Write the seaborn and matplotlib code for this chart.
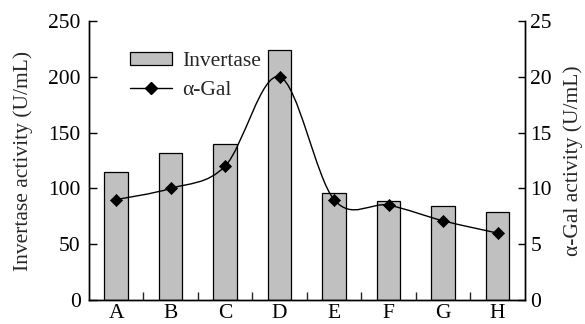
import numpy as np
import pandas as pd
import matplotlib
matplotlib.use("Agg")
import matplotlib.pyplot as plt
from matplotlib.path import Path
from matplotlib.patches import PathPatch
from matplotlib.lines import Line2D
from matplotlib.patches import Patch
import seaborn as sns

muestras = ['A', 'B', 'C', 'D', 'E', 'F', 'G', 'H']
invertasa = [115, 132, 140, 224, 96, 89, 84, 79]
alfa_gal = [9, 10, 12, 20, 9, 8.5, 7.1, 6]

sns.set_theme(style="white")
plt.rcParams['font.family'] = ['Liberation Serif', 'DejaVu Serif']

df = pd.DataFrame({'muestra': muestras, 'inv': invertasa, 'gal': alfa_gal})
FS = 15.5

fig = plt.figure(figsize=(5.85, 3.24), dpi=100)
ax = fig.add_axes([0.152, 0.074, 0.745, 0.861])

sns.barplot(data=df, x='muestra', y='inv', color='#c0c0c0', edgecolor='black',
            linewidth=0.9, width=0.43, saturation=1, ax=ax)
ax.set_xlim(-0.5, 7.5)
ax.set_ylim(0, 250)
ax.set_yticks(range(0, 251, 50))
ax.set_xlabel('')
ax.set_ylabel('Invertase activity (U/mL)', fontsize=FS, labelpad=11)

ax2 = ax.twinx()
ax2.set_ylim(0, 25)
ax2.set_yticks(range(0, 26, 5))

# linea suavizada (Catmull-Rom -> Bezier) a partir de los puntos
x = np.arange(len(alfa_gal), dtype=float)
y = np.array(alfa_gal, dtype=float)
verts = [(x[0], y[0])]
codes = [Path.MOVETO]
n = len(x)
for i in range(n - 1):
    p0 = np.array([x[max(i - 1, 0)], y[max(i - 1, 0)]])
    p1 = np.array([x[i], y[i]])
    p2 = np.array([x[i + 1], y[i + 1]])
    p3 = np.array([x[min(i + 2, n - 1)], y[min(i + 2, n - 1)]])
    c1 = p1 + (p2 - p0) / 6
    c2 = p2 - (p3 - p1) / 6
    verts += [tuple(c1), tuple(c2), tuple(p2)]
    codes += [Path.CURVE4] * 3
ax2.add_patch(PathPatch(Path(verts, codes), facecolor='none', edgecolor='black', lw=1.0))
sns.scatterplot(x=x, y=y, marker='D', s=38, color='black', edgecolor='black', ax=ax2, zorder=5)
ax2.set_ylabel('α-Gal activity (U/mL)', fontsize=FS, labelpad=8)

for a in (ax, ax2):
    for s in a.spines.values():
        s.set_color('black')
        s.set_linewidth(1.0)
    a.spines['top'].set_visible(False)
    a.tick_params(labelsize=FS, colors='black', direction='in', length=6, width=1)

ax.tick_params(axis='x', which='major', length=0, pad=3)
ax.set_xticks(np.arange(0.5, 7.5, 1.0), minor=True)
ax.tick_params(axis='x', which='minor', direction='in', length=6, width=1, bottom=True)
ax.tick_params(axis='y', left=True, pad=6)
ax2.tick_params(axis='y', right=True, length=5, pad=4)

handles = [Patch(facecolor='#c0c0c0', edgecolor='black', linewidth=0.9),
           Line2D([0], [0], color='black', lw=1.0, marker='D', markersize=6)]
ax.legend(handles, ['Invertase', 'α-Gal'], loc='upper left', bbox_to_anchor=(0.094, 0.889),
          frameon=False, fontsize=FS, handlelength=1.95, handleheight=0.56,
          handletextpad=0.47, labelspacing=0.45, borderaxespad=0, borderpad=0)

fig.savefig('out.png', dpi=100)
